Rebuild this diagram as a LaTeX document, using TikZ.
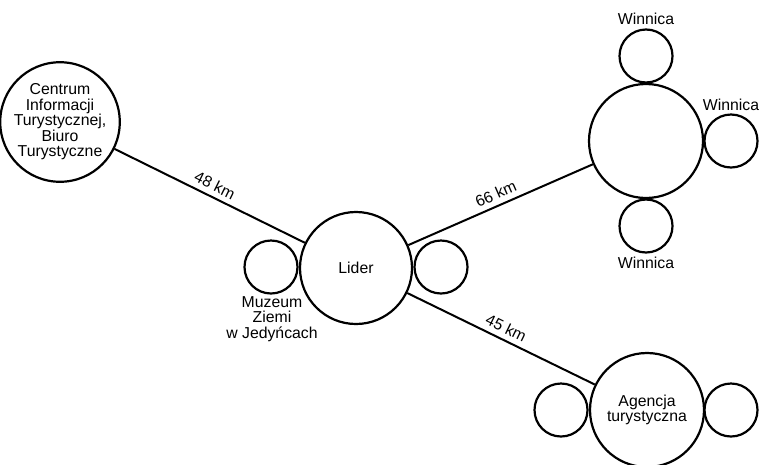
\documentclass[tikz,border=0pt]{standalone}
\usepackage{fontspec}
\setmainfont{Liberation Sans}
\newcommand\mysz{\fontsize{15.8pt}{15.5pt}\selectfont}
\tikzset{
  big/.style={draw, circle, line width=2.2pt, minimum size=112pt, inner sep=0pt, align=center, font=\mysz},
  small/.style={draw, circle, line width=2.2pt, minimum size=53pt, inner sep=0pt},
  conn/.style={line width=2pt},
  dist/.style={midway, sloped, above=2pt, inner sep=3pt, font=\mysz},
  lbl/.style={align=center, inner sep=0pt, font=\mysz}}
\begin{document}
\begin{tikzpicture}[x=1pt,y=-1pt]
\useasboundingbox (0,0) rectangle (759,464);
\node[big] (cent) at (60,122) {Centrum\\Informacji\\Turystycznej,\\Biuro\\Turystyczne};
\node[big] (lider) at (356,268) {Lider};
\node[small] (ls) at (271,267) {};
\node[small] (rs) at (441,267) {};
\node[lbl] (muz) at (272,319) {Muzeum\\Ziemi\\w Jedyńcach};
\node[big, minimum size=114pt] (win) at (646,141) {};
\node[small] (wt) at (646,56) {};
\node[small] (wr) at (731,141) {};
\node[small] (wb) at (646,226) {};
\node[lbl] (wtl) at (646,19) {Winnica};
\node[lbl] (wrl) at (731,105) {Winnica};
\node[lbl] (wbl) at (646,263) {Winnica};
\node[big, minimum size=114pt] (ag) at (647,410) {Agencja\\turystyczna};
\node[small] (al) at (561,410) {};
\node[small] (ar) at (731,410) {};
\draw[conn] (cent) -- node[dist] {48 km} (lider);
\draw[conn] (lider) -- node[dist] {66 km} (win);
\draw[conn] (lider) -- node[dist] {45 km} (ag);
\end{tikzpicture}
\end{document}
